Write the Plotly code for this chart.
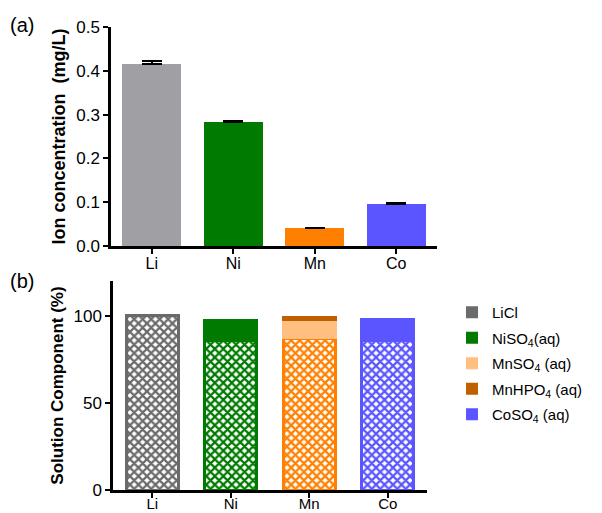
import plotly.graph_objects as go

# ---------------- data ----------------
ions = ["Li", "Ni", "Mn", "Co"]
conc = [0.416, 0.282, 0.040, 0.097]          # mg/L
conc_err = [0.006, 0.003, 0.001, 0.001]
conc_colors = ["#a09fa4", "#007a00", "#ff8000", "#5a55ff"]

free_ion = [100.0, 85.6, 86.8, 85.7]          # % (checkered part)
free_colors = ["#6a6a6a", "#007a00", "#ff8000", "#5a55ff"]

licl = [0.0, 0.0, 0.0, 0.0]
niso4 = [0.0, 12.7, 0.0, 0.0]
mnso4 = [0.0, 0.0, 10.5, 0.0]
mnhpo4 = [0.0, 0.0, 2.7, 0.0]
coso4 = [0.0, 0.0, 0.0, 12.8]

species = [
    ("LiCl", licl, "#6b6b6b"),
    ("NiSO<sub>4</sub>(aq)", niso4, "#007a00"),
    ("MnSO<sub>4</sub> (aq)", mnso4, "#ffbf80"),
    ("MnHPO<sub>4</sub> (aq)", mnhpo4, "#c05f00"),
    ("CoSO<sub>4</sub> (aq)", coso4, "#5a55ff"),
]

FONT = "Liberation Sans, Arial, sans-serif"
W, H = 602, 513

def px_x(p):
    return p / W

def px_y(p):
    return 1 - p / H

fig = go.Figure()

# ---------- panel (a) ----------
fig.add_trace(go.Bar(
    x=ions, y=conc, xaxis="x", yaxis="y", width=0.72,
    marker=dict(color=conc_colors, line=dict(width=0)),
    error_y=dict(type="data", symmetric=False, array=conc_err,
                 arrayminus=[0, 0, 0, 0], color="black", thickness=2, width=10),
    showlegend=False, hoverinfo="skip",
))

# ---------- panel (b) ----------
fig.add_trace(go.Bar(
    x=ions, y=free_ion, xaxis="x2", yaxis="y2", width=0.66,
    marker=dict(
        color="white",
        line=dict(color=free_colors, width=3),
        pattern=dict(shape="x", fgcolor=free_colors, bgcolor="white",
                     size=6, solidity=0.6, fillmode="replace"),
    ),
    showlegend=False, hoverinfo="skip",
))
for i, (name, vals, col) in enumerate(species):
    fig.add_trace(go.Bar(
        x=ions, y=vals, xaxis="x2", yaxis="y2", width=0.7, name=name,
        marker=dict(color=col, line=dict(width=0)),
        legendgroup=f"g{i}", hoverinfo="skip",
    ))

axis_common = dict(
    showline=True, linecolor="black", linewidth=2.5,
    ticks="outside", tickcolor="black", tickwidth=2, ticklen=5,
    showgrid=False, zeroline=False, automargin=False,
)

fig.update_layout(
    width=W, height=H, autosize=False,
    margin=dict(l=0, r=0, t=0, b=0, pad=0),
    paper_bgcolor="white", plot_bgcolor="white",
    barmode="stack",
    font=dict(family=FONT, color="black", size=15),
    xaxis=dict(domain=[px_x(111), px_x(437)], anchor="y", range=[-0.5, 3.5],
               tickfont=dict(size=16), ticklabelstandoff=-4, **axis_common),
    yaxis=dict(domain=[px_y(246), px_y(27)], anchor="x", range=[0, 0.5],
               tickvals=[0, 0.1, 0.2, 0.3, 0.4, 0.5],
               ticktext=["0.0", "0.1", "0.2", "0.3", "0.4", "0.5"],
               tickfont=dict(size=17),
               title=dict(text="<b>Ion concentration  (mg/L)</b>", font=dict(size=18), standoff=6),
               **axis_common),
    xaxis2=dict(domain=[px_x(113), px_x(427)], anchor="y2", range=[-0.5, 3.5],
                tickfont=dict(size=15), ticklabelstandoff=-7, **axis_common),
    yaxis2=dict(domain=[px_y(490), px_y(281)], anchor="x2", range=[0, 120],
                tickvals=[0, 50, 100], tickfont=dict(size=17),
                title=dict(text="<b>Solution Component (%)</b>", font=dict(size=17), standoff=6),
                **axis_common),
    legend=dict(x=px_x(452), y=px_y(296), xanchor="left", yanchor="top",
                traceorder="grouped", tracegroupgap=3,
                font=dict(size=15), bgcolor="rgba(0,0,0,0)"),
    annotations=[
        dict(text="(a)", x=px_x(8), y=px_y(12), xref="paper", yref="paper",
             xanchor="left", yanchor="top", showarrow=False, font=dict(size=20)),
        dict(text="(b)", x=px_x(8), y=px_y(268), xref="paper", yref="paper",
             xanchor="left", yanchor="top", showarrow=False, font=dict(size=20)),
    ],
)

fig.write_html(
    "out.html",
    config={"displayModeBar": False},
    post_script="document.body.style.margin='0';document.body.style.overflow='hidden';",
)
